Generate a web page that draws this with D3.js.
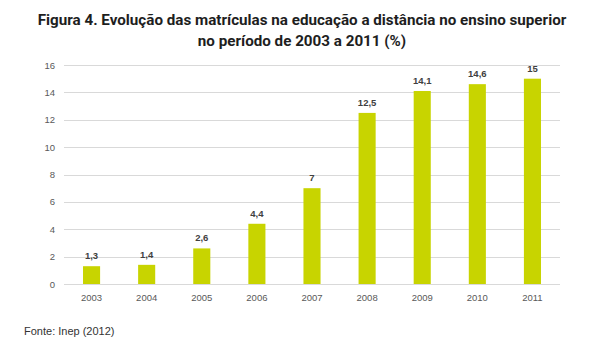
<!DOCTYPE html>
<html>
<head>
<meta charset="utf-8">
<script src="https://cdn.jsdelivr.net/npm/d3@7"></script>
<style>
  body { margin: 0; background: #fff; }
</style>
</head>
<body>
<div id="chart"></div>
<script>
// Data
var years = ["2003", "2004", "2005", "2006", "2007", "2008", "2009", "2010", "2011"];
var values = [1.3, 1.4, 2.6, 4.4, 7, 12.5, 14.1, 14.6, 15];
var yTicks = [0, 2, 4, 6, 8, 10, 12, 14, 16];
var titleLines = ["Figura 4. Evolução das matrículas na educação a distância no ensino superior",
                  "no período de 2003 a 2011 (%)"];
var source = "Fonte: Inep (2012)";

function init() {
    var width = 603, height = 353;
    var svg = d3.select("#chart").append("svg")
        .attr("width", width)
        .attr("height", height);

    // title
    svg.selectAll(".title")
        .data(titleLines)
        .enter()
        .append("text")
        .attr("class", "title")
        .attr("x", 302)
        .attr("y", (d, i) => 25 + i * 21)
        .attr("text-anchor", "middle")
        .style("font-family", "Roboto, 'Liberation Sans', sans-serif")
        .style("font-weight", "bold")
        .style("font-size", "15.2px")
        .style("fill", "#1e1e1e")
        .text(d => d);

    var x = d3.scaleBand()
        .domain(years)
        .range([64, 560])
        .paddingInner(0.69)
        .paddingOuter(0.345);

    var y = d3.scaleLinear()
        .domain([0, 16])
        .range([284, 65]);

    // gridlines
    svg.append("g")
        .selectAll("line")
        .data(yTicks)
        .enter()
        .append("line")
        .attr("x1", 64)
        .attr("x2", 560)
        .attr("y1", d => Math.round(y(d)) + 0.5)
        .attr("y2", d => Math.round(y(d)) + 0.5)
        .attr("stroke", "#d9d9d9")
        .attr("stroke-width", 1);

    // y axis labels
    var yAxis = d3.axisLeft(y).tickValues(yTicks).tickSize(0).tickPadding(9);
    var gy = svg.append("g")
        .attr("transform", "translate(64,0)")
        .call(yAxis);
    gy.select(".domain").remove();
    gy.selectAll("text")
        .style("font-family", "'Liberation Sans', Arial, sans-serif")
        .style("font-size", "9.5px")
        .style("fill", "#595959");

    // x axis labels
    var xAxis = d3.axisBottom(x).tickSize(0).tickPadding(10);
    var gx = svg.append("g")
        .attr("transform", "translate(0,284)")
        .call(xAxis);
    gx.select(".domain").remove();
    gx.selectAll("text")
        .style("font-family", "'Liberation Sans', Arial, sans-serif")
        .style("font-size", "9.5px")
        .style("fill", "#595959");

    // bars
    svg.selectAll(".bar")
        .data(values)
        .enter()
        .append("rect")
        .attr("class", "bar")
        .attr("x", (d, i) => x(years[i]))
        .attr("y", d => y(d))
        .attr("width", x.bandwidth())
        .attr("height", d => y(0) - y(d))
        .style("fill", "#c8d400");

    // value labels
    svg.selectAll(".val")
        .data(values)
        .enter()
        .append("text")
        .attr("class", "val")
        .attr("x", (d, i) => x(years[i]) + x.bandwidth() / 2)
        .attr("y", d => y(d) - 7)
        .attr("text-anchor", "middle")
        .style("font-family", "'Liberation Sans', Arial, sans-serif")
        .style("font-weight", "bold")
        .style("font-size", "9.5px")
        .style("fill", "#404040")
        .text(d => String(d).replace(".", ","));

    // source
    svg.append("text")
        .attr("x", 24)
        .attr("y", 335)
        .style("font-family", "'Liberation Sans', Arial, sans-serif")
        .style("font-size", "11px")
        .style("fill", "#333")
        .text(source);
}

window.onload = init;
</script>
</body>
</html>
